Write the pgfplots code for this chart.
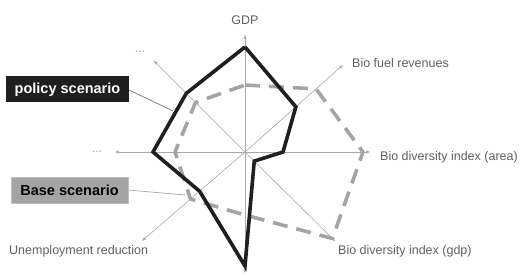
\documentclass[border=0pt]{standalone}
\usepackage{pgfplots}
\pgfplotsset{compat=1.18}
\usetikzlibrary{arrows.meta}
\usepackage{fontspec}
\setmainfont{Liberation Sans}
\definecolor{spoke}{HTML}{A8A8A8}
\definecolor{lbl}{HTML}{606060}
\definecolor{basegray}{HTML}{A4A4A4}
\begin{document}
\begin{tikzpicture}
\begin{axis}[
  width=526pt, height=275pt, scale only axis,
  xmin=-245, xmax=281, ymin=-123, ymax=152,
  axis lines=none, clip=false,
  spk/.style={spoke, line width=0.6pt, -{Stealth[length=4pt,width=3pt,inset=0.5pt]}, forget plot, data cs=polar},
]
% spokes (angle, length)
\addplot[spk] coordinates {(0,0) (90,117)};
\addplot[spk] coordinates {(0,0) (41.6,131)};
\addplot[spk] coordinates {(0,0) (0,125)};
\addplot[spk] coordinates {(0,0) (315.3,127)};
\addplot[spk] coordinates {(0,0) (270,121)};
\addplot[spk] coordinates {(0,0) (220.8,136)};
\addplot[spk] coordinates {(0,0) (180,130)};
\addplot[spk] coordinates {(0,0) (135,129)};
% base scenario
\addplot[data cs=polar, basegray, line width=3.6pt, dash pattern=on 15pt off 9pt, line join=round, line cap=butt]
 coordinates {(90,67) (41.6,95) (0,118) (315.3,123) (270,63) (220.8,72) (180,70) (135,70) (90,67)};
% policy scenario
\addplot[data cs=polar, black!88, line width=3.6pt, line join=miter]
 coordinates {(90,105) (41.6,68) (0,38) (315.3,13) (270,114) (220.8,60) (180,92) (135,83) (90,105)};
% labels
\begin{scope}[font=\fontsize{12.5}{14}\selectfont, text=lbl]
\node at (axis cs:0,132) {GDP};
\node[anchor=west, inner sep=0pt] at (axis cs:107,89) {Bio fuel revenues};
\node[anchor=west, inner sep=0pt] at (axis cs:135,-5) {Bio diversity index (area)};
\node[anchor=west, inner sep=0pt] at (axis cs:93,-99) {Bio diversity index (gdp)};
\node[anchor=west, inner sep=0pt] at (axis cs:-236,-99) {Unemployment reduction};
\node[text=spoke] at (axis cs:-148,0) {...};
\node[text=spoke] at (axis cs:-105,100) {...};
\end{scope}
% callouts
\draw[black!55, line width=0.7pt] (axis cs:-116,62) -- (axis cs:-72,41);
\draw[black!35, line width=0.7pt] (axis cs:-117,-38) -- (axis cs:-60,-43);
\node[fill=black!88, text=white, font=\fontsize{14.5}{16}\bfseries, minimum width=123pt, minimum height=26pt, inner sep=0pt] at (axis cs:-177.5,62.5) {policy scenario};
\node[fill=basegray, draw=black!25, text=black, font=\fontsize{14.5}{16}\bfseries, minimum width=117pt, minimum height=26pt, inner sep=0pt] at (axis cs:-175.5,-38) {Base scenario};
\end{axis}
\pgfresetboundingbox
\path (0,0) rectangle (526pt,275pt);
\end{tikzpicture}
\end{document}
